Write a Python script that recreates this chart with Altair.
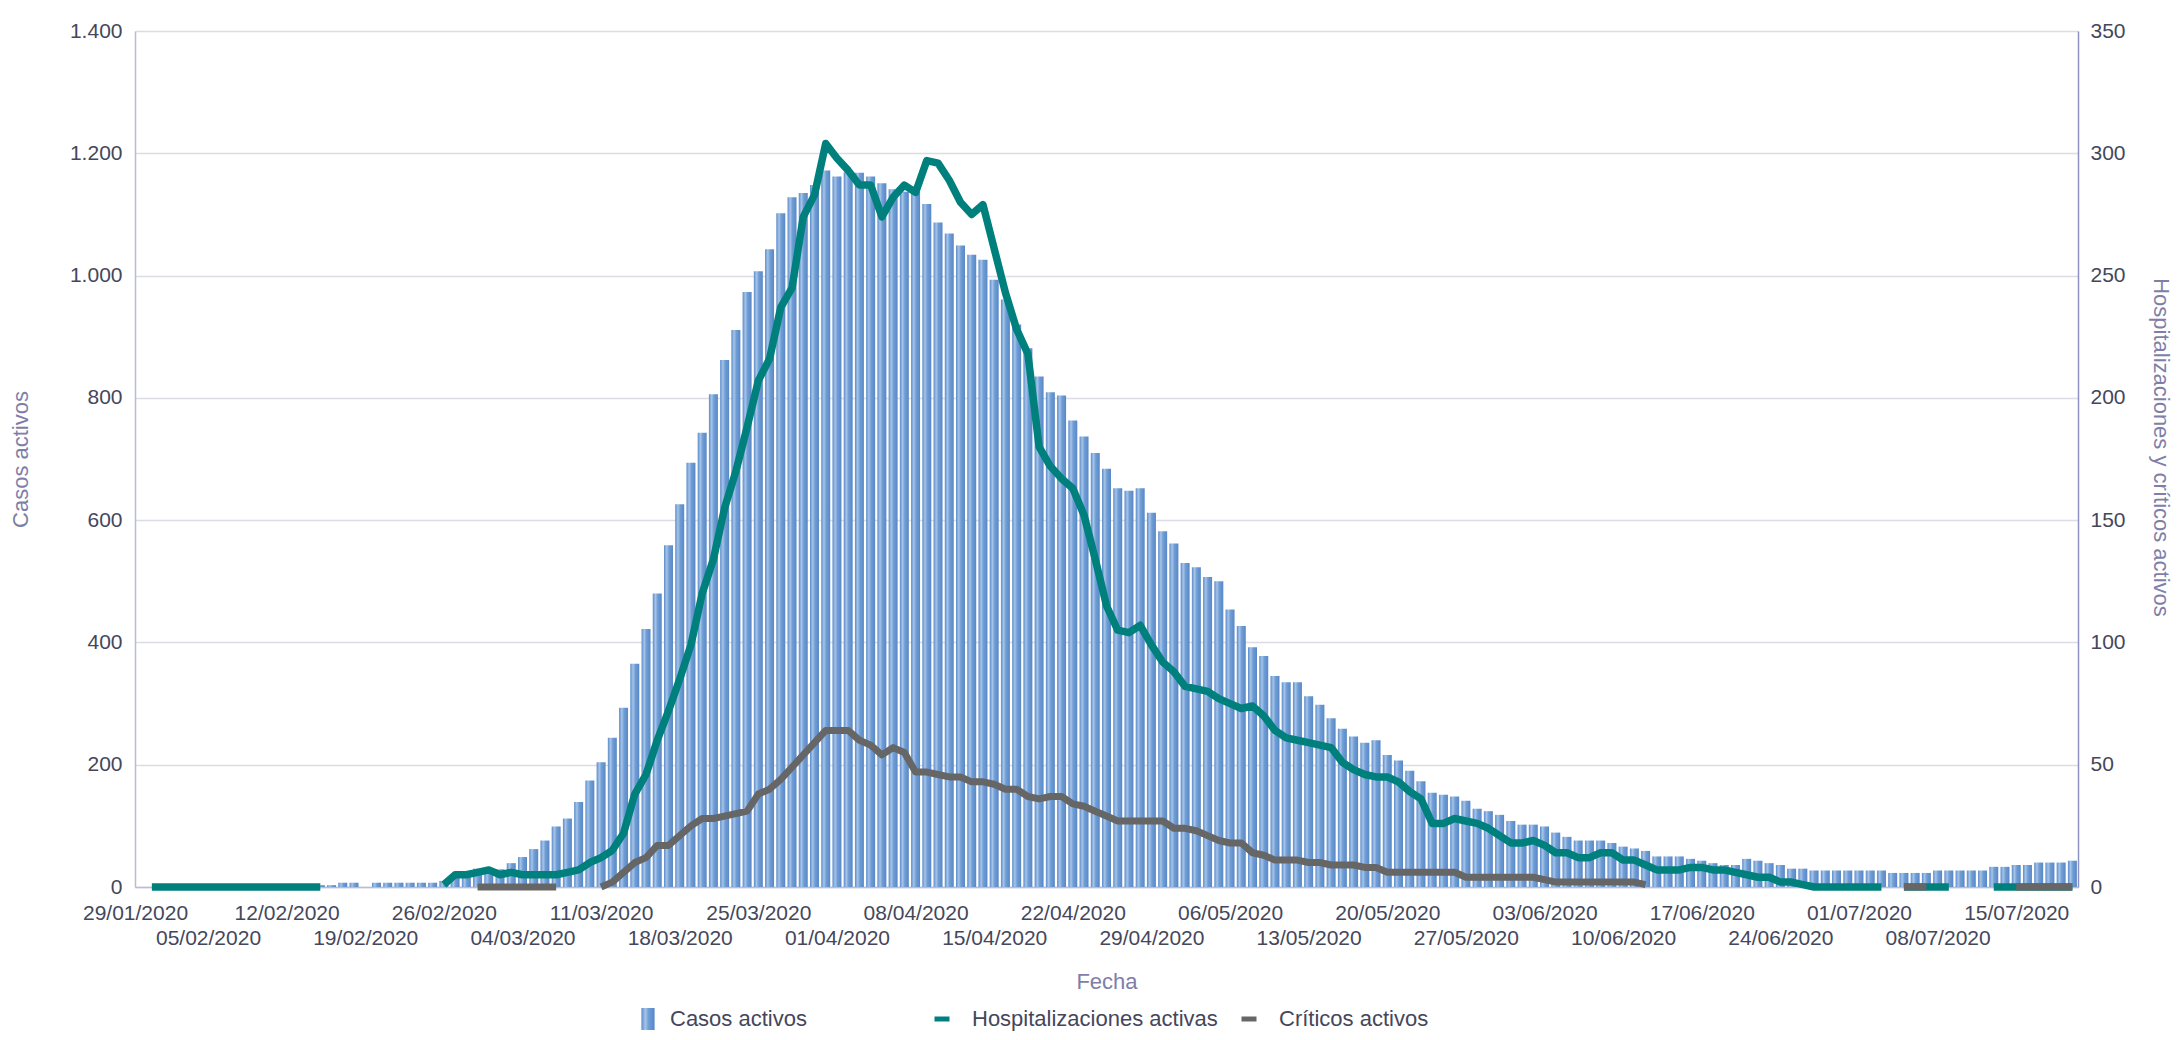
import altair as alt
import pandas as pd

# ---------------- data ----------------
N_DIAS = 173  # 30/01/2020 ... 20/07/2020
INICIO = pd.Timestamp("2020-01-30 12:00")
fechas = [(INICIO + pd.Timedelta(days=i)).strftime("%Y-%m-%dT%H:%M:%SZ") for i in range(N_DIAS)]

casos = (
    [0] * 16
    + [3, 3, 7, 7, 0, 7, 7, 7, 7, 7, 7]
    + [10, 17, 23, 30, 28, 29, 39, 49, 62]
    + [76, 99, 112, 139, 174, 204, 244, 293, 365, 422, 480, 559, 626, 694, 743, 806, 862, 911,
       973, 1007, 1043, 1102, 1128, 1135, 1148, 1172, 1162, 1169, 1168, 1162, 1151, 1141, 1137,
       1137, 1117, 1087]
    + [1069, 1049, 1034, 1026, 993, 961, 920, 881, 835, 809, 804, 763, 737, 710, 684, 652, 648,
       652, 612, 582, 562, 530, 523, 507, 500, 454, 427, 392, 378, 345, 335, 335, 312, 298, 276]
    + [259, 246, 236, 240, 216, 207, 190, 173, 154, 151, 148, 141, 128, 124, 118, 108, 102, 102,
       99, 89, 82, 76, 76, 76, 72, 66, 63, 59, 50, 50, 50, 46, 43, 39]
    + [36, 36, 46, 43, 39, 36, 30, 30]
    + [27] * 7 + [23] * 4 + [27] * 5
    + [33, 33, 36, 36, 40, 40, 40, 43]
)

hospitalizaciones = (
    [None]
    + [0] * 16
    + [None] * 10
    + [1, 5, 5, 6, 7, 5, 6, 5, 5]
    + [5, 5, 6, 7, 10, 12, 15, 22, 38, 46, 60, 72, 85, 99, 120, 134, 155, 170, 188, 207, 216,
       237, 245, 274, 283, 304, 298, 293, 287, 287, 274, 282, 287, 284, 297, 296]
    + [289, 280, 275, 279, 261, 243, 228, 218, 180, 172, 167, 163, 152, 134, 115, 105, 104, 107,
       99, 92, 88, 82, 81, 80, 77, 75, 73, 74, 70, 64, 61, 60, 59, 58, 57]
    + [51, 48, 46, 45, 45, 43, 39, 36, 26, 26, 28, 27, 26, 24, 21, 18, 18, 19, 17, 14, 14, 12,
       12, 14, 14, 11, 11, 9, 7, 7, 7, 8, 8, 7]
    + [7, 6, 5, 4, 4, 2, 2, 1]
    + [0] * 7 + [None] + [0] * 5 + [None] * 3 + [0] * 8
)

criticos = (
    [None] * 30
    + [0] * 8
    + [None] * 3
    + [0, 2, 6, 10, 12, 17, 17, 21, 25, 28, 28, 29, 30, 31, 38, 40, 44, 49, 54, 59, 64, 64, 64,
       60, 58, 54, 57, 55, 47, 47, 46]
    + [45, 45, 43, 43, 42, 40, 40, 37, 36, 37, 37, 34, 33, 31, 29, 27, 27, 27, 27, 27, 24, 24,
       23, 21, 19, 18, 18, 14, 13, 11, 11, 11, 10, 10, 9]
    + [9, 9, 8, 8] + [6] * 7 + [4] * 7 + [3] + [2] * 8 + [1]
    + [None] * 22 + [0] * 3 + [None] * 7 + [0] * 6
)

SERIES = ["Casos activos", "Hospitalizaciones activas", "Críticos activos"]

# ---------------- tables ----------------
df_bar = pd.DataFrame({"fecha": fechas, "valor": casos, "serie": SERIES[0]})


def tramos(valores, nombre):
    filas, seg, prev = [], 0, None
    for f, v in zip(fechas, valores):
        if v is None:
            prev = None
            continue
        if prev is None:
            seg += 1
        filas.append({"fecha": f, "valor": v, "serie": nombre, "tramo": seg})
        prev = v
    return pd.DataFrame(filas)


df_hosp = tramos(hospitalizaciones, SERIES[1])
df_crit = tramos(criticos, SERIES[2])

# tick positions: first label at the left edge, then every 7 days at mid-day
tick_vals = [alt.DateTime(year=2020, month=1, date=30, hours=0, utc=True)]
for k in range(1, 25):
    d = pd.Timestamp("2020-01-29") + pd.Timedelta(days=7 * k)
    tick_vals.append(alt.DateTime(year=d.year, month=d.month, date=d.day, hours=12, utc=True))

# ---------------- styles ----------------
FONT = "Liberation Sans"
LBL = "#44475c"
TTL = "#7e7ea8"
GRID = "#dcdce6"
TEAL = "#00807c"
GRAY = "#666666"
GRAD = ("{gradient: 'linear', x1: 0, y1: 0, x2: 1, y2: 0, stops: ["
        "{offset: 0, color: '#5a8bca'}, {offset: 0.3, color: '#a6c4e8'}, "
        "{offset: 0.55, color: '#6f9ed6'}, {offset: 1, color: '#5887c6'}]}")

W, H = 1943, 856

x_scale = alt.Scale(type="utc",
                    domain=[alt.DateTime(year=2020, month=1, date=30, utc=True),
                            alt.DateTime(year=2020, month=7, date=21, utc=True)],
                    nice=False, padding=0)

lbl_expr = ("(round((datum.value - utc(2020,0,30)) / 604800000) % 2 == 1) ? "
            "['', utcFormat(datum.value - 43200000, '%d/%m/%Y')] : "
            "utcFormat(datum.value - 43200000, '%d/%m/%Y')")

x_axis = alt.Axis(values=tick_vals, labelExpr=lbl_expr, labelFontSize=21, labelColor=LBL,
                  labelPadding=15, labelLineHeight=25, labelOverlap=False, labelFlush=False,
                  labelBound=False, ticks=False, domainColor="#b9bdd4", domainWidth=1.5,
                  grid=False, title="Fecha", titleFontSize=22, titleColor=TTL,
                  titleFontWeight="normal", titleX=W / 2, titleY=94, titleBaseline="middle",
                  titleAlign="center")

y_left = alt.Axis(values=list(range(0, 1401, 200)),
                  labelExpr="replace(format(datum.value, ','), ',', '.')",
                  labelFontSize=21, labelColor=LBL, labelPadding=13, ticks=False,
                  domainColor="#b9bdd4", domainWidth=1.5, gridColor=GRID, gridWidth=1.3,
                  title="Casos activos", titleFontSize=22, titleColor=TTL,
                  titleFontWeight="normal", titleAngle=270, titleX=-115, titleY=428,
                  titleBaseline="middle", titleAlign="center")

y_right = alt.Axis(orient="right", values=list(range(0, 351, 50)), labelFontSize=21,
                   labelColor=LBL, labelPadding=12, ticks=False, domainColor="#8e92c3",
                   domainWidth=1.5, grid=False, title="Hospitalizaciones y críticos activos",
                   titleFontSize=22, titleColor=TTL, titleFontWeight="normal", titleAngle=90,
                   titleX=82, titleY=416, titleBaseline="middle", titleAlign="center")

LEG_Y = 977

bars = alt.Chart(df_bar).mark_bar(width=9).encode(
    x=alt.X("fecha:T", scale=x_scale, axis=x_axis),
    y=alt.Y("valor:Q", scale=alt.Scale(domain=[0, 1400], nice=False), axis=y_left),
    fill=alt.Fill("serie:N",
                  scale=alt.Scale(domain=[SERIES[0]], range=[alt.ExprRef(GRAD)]),
                  legend=alt.Legend(orient="none", legendX=502, legendY=LEG_Y, title=None,
                                    symbolType="M-0.6,-1H0.6V1H-0.6Z", symbolSize=484,
                                    symbolStrokeWidth=0, labelFontSize=22, labelColor=LBL,
                                    labelOffset=11, labelLimit=400, padding=0)),
)

stroke_scale = alt.Scale(domain=SERIES[1:], range=[TEAL, GRAY])
line_legend = alt.Legend(orient="none", legendX=796, legendY=LEG_Y, direction="horizontal",
                         title=None, symbolType="stroke", symbolSize=225, symbolStrokeWidth=5,
                         labelFontSize=22, labelColor=LBL, labelOffset=19, labelLimit=400,
                         columnPadding=13, padding=0)

y_lines = alt.Y("valor:Q", scale=alt.Scale(domain=[0, 350], nice=False), axis=y_right)

hosp_line = alt.Chart(df_hosp).mark_line(strokeWidth=7.5, strokeJoin="round").encode(
    x=alt.X("fecha:T", scale=x_scale, axis=x_axis),
    y=y_lines,
    stroke=alt.Stroke("serie:N", scale=stroke_scale, legend=line_legend),
    detail="tramo:N",
)

crit_line = alt.Chart(df_crit).mark_line(strokeWidth=7, strokeJoin="round").encode(
    x=alt.X("fecha:T", scale=x_scale, axis=x_axis),
    y=y_lines,
    stroke=alt.Stroke("serie:N", scale=stroke_scale, legend=line_legend),
    detail="tramo:N",
)

lines = alt.layer(hosp_line, crit_line)

chart = (
    alt.layer(bars, lines)
    .resolve_scale(y="independent")
    .properties(width=W, height=H,
                padding={"left": 127, "top": 23, "right": 95, "bottom": 145},
                autosize=alt.AutoSizeParams(type="none"))
    .configure(font=FONT)
    .configure_view(stroke=None)
)

chart.save("out.html", embed_options={"renderer": "svg", "actions": False})
